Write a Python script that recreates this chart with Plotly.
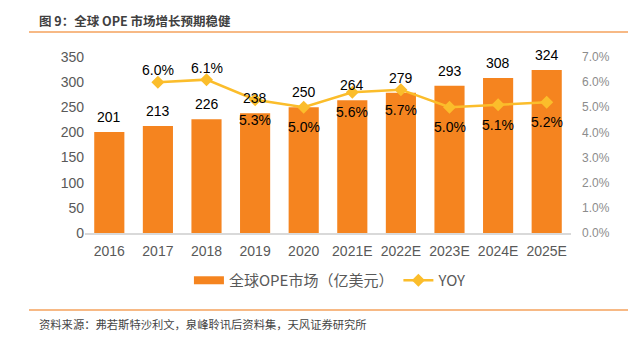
import plotly.graph_objects as go

years = ["2016", "2017", "2018", "2019", "2020", "2021E", "2022E", "2023E", "2024E", "2025E"]
market = [201, 213, 226, 238, 250, 264, 279, 293, 308, 324]
yoy_years = ["2017", "2018", "2019", "2020", "2021E", "2022E", "2023E", "2024E", "2025E"]
yoy = [0.060, 0.061, 0.053, 0.050, 0.056, 0.057, 0.050, 0.051, 0.052]
yoy_above = [True, True, False, False, False, False, False, False, False]

bar_color = "#F5841F"
line_color = "#FBBD2B"
tick_color = "#595959"
font_family = "Liberation Sans, Arial, Noto Sans CJK SC, sans-serif"
cjk_family = "Noto Sans CJK SC, Liberation Sans, sans-serif"

fig = go.Figure()
fig.add_trace(go.Bar(
    x=years, y=market, name="全球OPE市场（亿美元）", showlegend=False,
    marker=dict(color=bar_color, line=dict(width=0)),
))
# legend entry drawn as a thick line to mimic the wide rectangle swatch
fig.add_trace(go.Scatter(
    x=[years[0]], y=[None], name="全球OPE市场（亿美元）", mode="lines",
    line=dict(color=bar_color, width=8), showlegend=True, hoverinfo="skip",
))
fig.add_trace(go.Scatter(
    x=yoy_years, y=yoy, name="YOY", yaxis="y2",
    mode="lines+markers",
    line=dict(color=line_color, width=2.5),
    marker=dict(symbol="diamond", size=10, color=line_color),
    cliponaxis=False,
))

annotations = []
for x, v in zip(years, market):
    annotations.append(dict(x=years.index(x), y=v, xref="x", yref="y", text=str(v), showarrow=False,
                            yshift=15, yanchor="middle",
                            font=dict(size=14, color="#000000", family=font_family)))
for x, v, up in zip(yoy_years, yoy, yoy_above):
    annotations.append(dict(x=years.index(x), y=v, xref="x", yref="y2", text=f"{v*100:.1f}%", showarrow=False,
                            yshift=12 if up else -20, yanchor="middle",
                            font=dict(size=14, color="#000000", family=font_family)))

annotations += [
    dict(text="<b>图 9：全球 OPE 市场增长预期稳健</b>", xref="paper", yref="paper",
         x=-(85 - 37) / 486, y=1 + (57 - 21) / 176, xanchor="left", yanchor="middle",
         showarrow=False, font=dict(size=12.5, color="#404040", family="Noto Sans CJK SC, sans-serif")),
    dict(text="资料来源：弗若斯特沙利文，泉峰聆讯后资料集，天风证券研究所", xref="paper", yref="paper",
         x=-(85 - 37) / 486, y=-(324 - 233) / 176, xanchor="left", yanchor="middle",
         showarrow=False, font=dict(size=11.3, color="#444444", family="Noto Sans CJK SC, sans-serif")),
]

fig.update_layout(
    width=628, height=339,
    margin=dict(l=85, r=57, t=57, b=106),
    paper_bgcolor="white", plot_bgcolor="white",
    font=dict(family=font_family, color=tick_color, size=13),
    bargap=0.38,
    showlegend=True,
    legend=dict(orientation="h", x=0.505, xanchor="center", y=-0.27, yanchor="middle",
                font=dict(size=15, color=tick_color, family=cjk_family),
                traceorder="normal"),
    xaxis=dict(type="category", categoryorder="array", categoryarray=years,
               range=[-0.5, len(years) - 0.5],
               showline=True, linecolor="#D9D9D9", linewidth=1.5,
               ticks="", tickfont=dict(size=14, color=tick_color), showgrid=False,
               ticklabelstandoff=4),
    yaxis=dict(range=[0, 350], dtick=50, showgrid=False, zeroline=False, ticks="",
               tickfont=dict(size=14, color=tick_color)),
    yaxis2=dict(range=[0, 0.07], dtick=0.01, tickformat=".1%", overlaying="y", side="right",
                showgrid=False, zeroline=False, ticks="", ticklabelstandoff=10,
                tickfont=dict(size=12, color="#8C8C8C")),
    annotations=annotations,
    shapes=[
        dict(type="line", xref="paper", yref="paper", x0=-(85 - 29) / 486, x1=(628 - 85) / 486,
             y0=1 + (57 - 32) / 176, y1=1 + (57 - 32) / 176, line=dict(color="#F5A25D", width=1.5)),
        dict(type="line", xref="paper", yref="paper", x0=-(85 - 29) / 486, x1=(628 - 85) / 486,
             y0=-(310 - 233) / 176, y1=-(310 - 233) / 176, line=dict(color="#F5A25D", width=1.5)),
    ],
)

fig.write_html("out.html")
